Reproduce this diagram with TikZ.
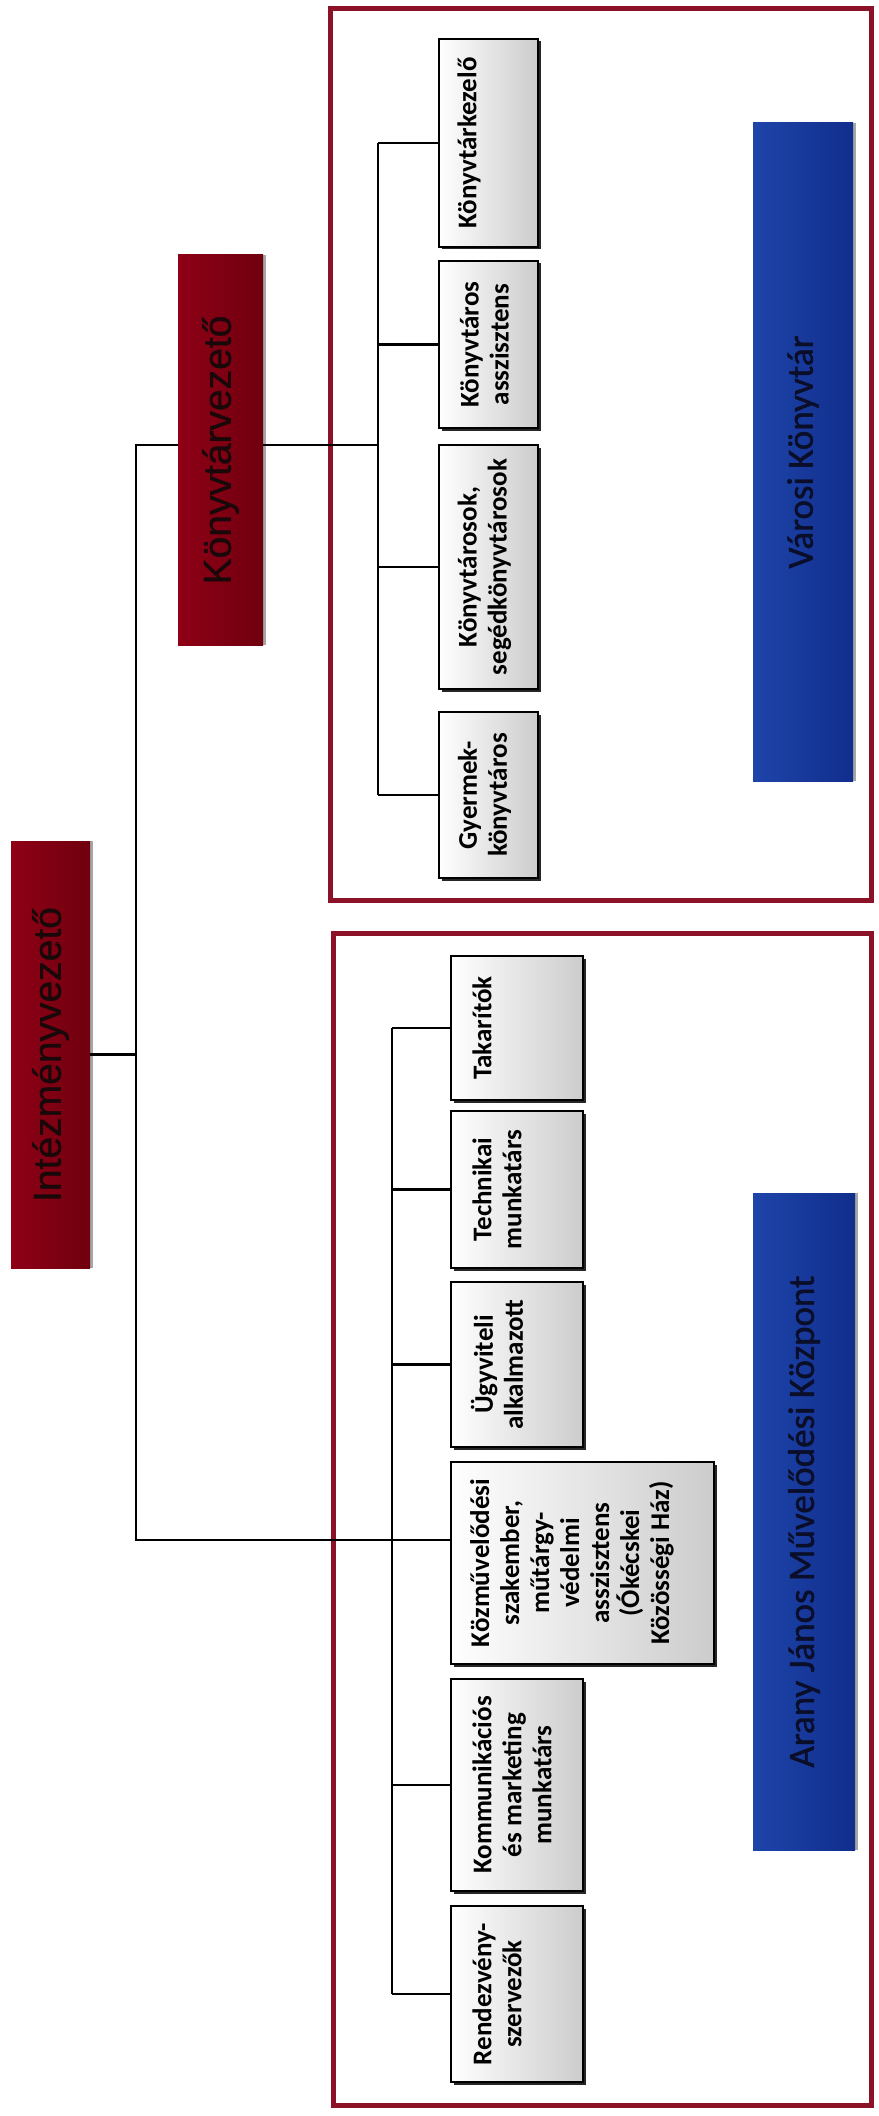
\documentclass[tikz,border=0pt]{standalone}
\usepackage{fontspec}
\newfontfamily\carlito{Carlito}
\newfontfamily\carlitoH[FakeBold=1.2]{Carlito}
\newfontfamily\arialf[FakeBold=0.8]{Liberation Sans}
\usetikzlibrary{shadows}
\definecolor{frameRed}{RGB}{140,18,40}
\definecolor{hdrRedL}{RGB}{142,0,22}
\definecolor{hdrRedR}{RGB}{112,0,14}
\definecolor{bluL}{RGB}{30,68,170}
\definecolor{bluR}{RGB}{16,46,140}
\definecolor{hdrText}{RGB}{25,8,10}
\definecolor{bluText}{RGB}{10,14,40}
\begin{document}
\begin{tikzpicture}[x=1pt,y=-1pt,
  conn/.style={line width=2.6pt, black},
  frame/.style={draw=frameRed, line width=5pt},
  hdrbox/.style={inner sep=0pt, left color=hdrRedL, right color=hdrRedR,
    drop shadow={shadow xshift=3pt, shadow yshift=0pt, opacity=1, fill=gray!70}},
  blubox/.style={inner sep=0pt, left color=bluL, right color=bluR,
    drop shadow={shadow xshift=3pt, shadow yshift=0pt, opacity=1, fill=gray!70}},
  staffbox/.style={draw=black, line width=2pt, inner sep=0pt, left color=white, right color=black!20,
    drop shadow={shadow xshift=2.5pt, shadow yshift=-2.5pt, opacity=1, fill=black!85}},
  hdrtxt/.style={rotate=90, inner sep=0pt, text=hdrText, font=\arialf\fontsize{39}{44}\selectfont},
  blutxt/.style={rotate=90, inner sep=0pt, text=bluText, font=\carlitoH\fontsize{37}{44}\selectfont},
  stafftxt/.style={rotate=90, inner sep=0pt, align=center, font=\carlito\bfseries\fontsize{27}{30}\selectfont},
]
\fill[white] (0,0) rectangle (878,2116);
\useasboundingbox (0,0) rectangle (878,2116);

% frames
\draw[frame] (330,9) rectangle (871,900);
\draw[frame] (333,933) rectangle (871,2105);

% header boxes
\node[hdrbox, minimum width=79, minimum height=427] (intez) at (50.5,1054.5) {};
\node[hdrtxt] (intezT) at (intez.center) {Intézményvezető};
\node[hdrbox, minimum width=85, minimum height=390] (konyvv) at (220.5,450) {};
\node[hdrtxt] (konyvvT) at (konyvv.center) {Könyvtárvezető};

% blue boxes
\node[blubox, minimum width=100, minimum height=658] (varosi) at (803,452) {};
\node[blutxt] (varosiT) at (varosi.center) {Városi Könyvtár};
\node[blubox, minimum width=102, minimum height=657] (arany) at (804,1521.5) {};
\node[blutxt] (aranyT) at (arany.center) {Arany János Művelődési Központ};

% upper staff boxes
\node[staffbox, minimum width=99, minimum height=208] (kezelo) at (488.5,143) {};
\node[stafftxt] (kezeloT) at (469,143) {Könyvtárkezelő};
\node[staffbox, minimum width=99, minimum height=167] (assz) at (488.5,344.5) {};
\node[stafftxt] (asszT) at (484.5,344.5) {Könyvtáros\\asszisztens};
\node[staffbox, minimum width=99, minimum height=244] (konyvt) at (488.5,567) {};
\node[stafftxt] (konyvtT) at (484.5,567) {Könyvtárosok,\\segédkönyvtárosok};
\node[staffbox, minimum width=99, minimum height=166] (gyerm) at (488.5,795) {};
\node[stafftxt] (gyermT) at (484.5,795) {Gyermek-\\könyvtáros};

% lower staff boxes
\node[staffbox, minimum width=132, minimum height=144] (tak) at (517,1028) {};
\node[stafftxt] (takT) at (482,1028) {Takarítók};
\node[staffbox, minimum width=132, minimum height=157] (tech) at (517,1189.5) {};
\node[stafftxt] (techT) at (497,1189.5) {Technikai\\munkatárs};
\node[staffbox, minimum width=132, minimum height=165] (ugy) at (517,1364.5) {};
\node[stafftxt] (ugyT) at (497,1364.5) {Ügyviteli\\alkalmazott};
\node[staffbox, minimum width=263, minimum height=202] (kozm) at (582.5,1563) {};
\node[stafftxt] (kozmT) at (572,1563) {Közművelődési\\szakember,\\műtárgy-\\védelmi\\asszisztens\\(Ókécskei\\Közösségi Ház)};
\node[staffbox, minimum width=132, minimum height=212] (komm) at (517,1785) {};
\node[stafftxt] (kommT) at (512,1785) {Kommunikációs\\és marketing\\munkatárs};
\node[staffbox, minimum width=132, minimum height=176] (rend) at (517,1994) {};
\node[stafftxt] (rendT) at (497,1994) {Rendezvény-\\szervezők};

% connectors
\coordinate (t0b) at (136,1540);
\coordinate (tr1) at (378,445);
\coordinate (j2) at (392,1540);
\coordinate (t0a) at (136,445);
\draw[conn] (konyvv.west |- t0a) -- (t0a) -- (t0b) -- (j2);
\draw[conn] (intez.east) -- (intez.east -| t0b);
\draw[conn] (konyvv.east |- tr1) -- (tr1);
\draw[conn] (kezelo.west -| tr1) -- (gyerm.west -| tr1);
\foreach \n in {kezelo,assz,konyvt,gyerm}
  \draw[conn] (\n.west -| tr1) -- (\n.west);
\draw[conn] (tak.west -| j2) -- (rend.west -| j2);
\foreach \n in {tak,tech,ugy,komm,rend}
  \draw[conn] (\n.west -| j2) -- (\n.west);
\draw[conn] (j2) -- (j2 -| kozm.west);
\end{tikzpicture}
\end{document}
